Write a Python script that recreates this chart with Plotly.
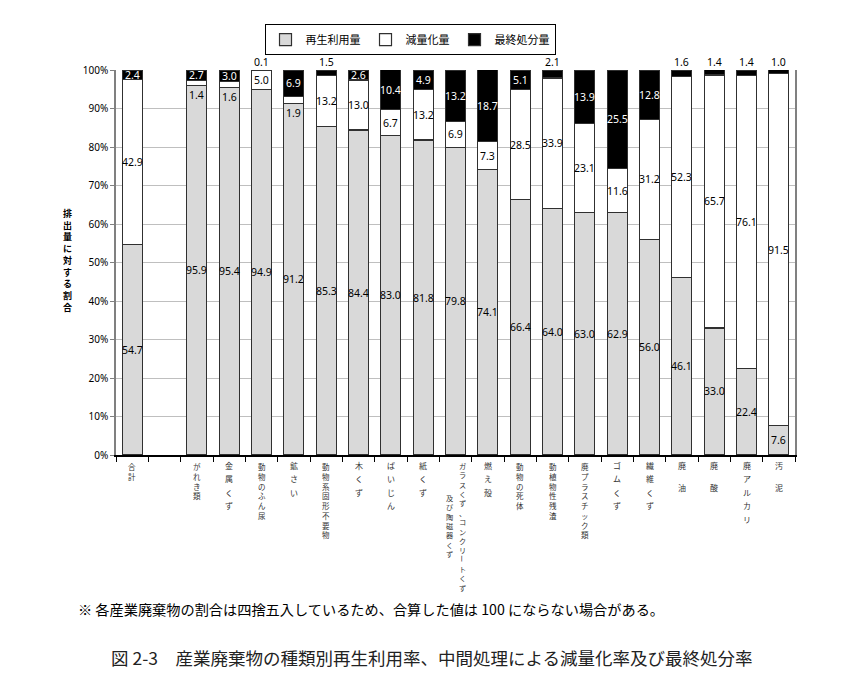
import plotly.graph_objects as go

categories = ["合計", " ", "がれき類", "金属くず", "動物のふん尿", "鉱さい", "動物系固形不要物",
              "木くず", "ばいじん", "紙くず", "ガラスくず、コンクリートくず及び陶磁器くず",
              "燃え殻", "動物の死体", "動植物性残渣", "廃プラスチック類", "ゴムくず",
              "繊維くず", "廃油", "廃酸", "廃アルカリ", "汚泥"]

# vertical tick labels: list of columns (right to left); " " = small gap, "　" = large gap
tick_labels = [["合計"], [], ["がれき類"], ["金 属 く ず"], ["動物のふん尿"], ["鉱 さ い"],
               ["動物系固形不要物"], ["木 く ず"], ["ば い じ ん"], ["紙 く ず"],
               ["ガラスくず、コンクリートくず", "及び陶磁器くず"],
               ["燃 え 殻"], ["動物の死体"], ["動植物性残渣"], ["廃プラスチック類"],
               ["ゴ ム く ず"], ["繊 維 く ず"], ["廃　油"], ["廃　酸"], ["廃 ア ル カ リ"], ["汚　泥"]]

recycled = [54.7, None, 95.9, 95.4, 94.9, 91.2, 85.3, 84.4, 83.0, 81.8, 79.8,
            74.1, 66.4, 64.0, 63.0, 62.9, 56.0, 46.1, 33.0, 22.4, 7.6]
reduced = [42.9, None, 1.4, 1.6, 5.0, 1.9, 13.2, 13.0, 6.7, 13.2, 6.9,
           7.3, 28.5, 33.9, 23.1, 11.6, 31.2, 52.3, 65.7, 76.1, 91.5]
final = [2.4, None, 2.7, 3.0, 0.1, 6.9, 1.5, 2.6, 10.4, 4.9, 13.2,
         18.7, 5.1, 2.1, 13.9, 25.5, 12.8, 1.6, 1.4, 1.4, 1.0]

y_ticks = [0, 10, 20, 30, 40, 50, 60, 70, 80, 90, 100]

series_names = ["再生利用量", "減量化量", "最終処分量"]
series_colors = ["#d9d9d9", "#ffffff", "#000000"]

JP = "Noto Sans CJK JP"
NUM = "Noto Sans"
LABEL_COLOR = "#333333"

fig = go.Figure()
for name, vals, col in zip(series_names, [recycled, reduced, final], series_colors):
    fig.add_bar(x=categories, y=vals, name=name,
                marker=dict(color=col, line=dict(color="#303030", width=1.2)))

annotations = []

def val_ann(cat, y, val, color, yanchor="middle", yshift=0):
    annotations.append(dict(x=cat, y=y, xref="x", yref="y", text=f"{val:.1f}",
                            showarrow=False, yanchor=yanchor, yshift=yshift,
                            borderpad=0,
                            font=dict(family=NUM, size=10.5, color=color)))

for cat, r, d, f in zip(categories, recycled, reduced, final):
    if r is None:
        continue
    val_ann(cat, r / 2, r, "#000000")
    if d >= 2:
        val_ann(cat, r + d / 2, d, "#000000")
    else:
        val_ann(cat, r, d, "#000000", yanchor="top", yshift=-1)
    if f >= 2.3:
        val_ann(cat, min(r + d + f / 2, 100 - f / 2), f, "#ffffff")
    else:
        val_ann(cat, 100, f, "#000000", yanchor="bottom", yshift=0)

# ---- vertical category labels ----
TOP = 10          # px below the axis of first character centre
SMALL_GAP = 3.8
BIG_GAP = 13.0

def char_ann(cat, ch, xshift, center, size, angle=0):
    annotations.append(dict(x=cat, y=0, xref="x", yref="y", text=ch, showarrow=False,
                            yanchor="middle", xshift=xshift, yshift=-center,
                            textangle=angle, borderpad=0,
                            font=dict(family=JP, size=size, color=LABEL_COLOR)))

def seg_ann(cat, chars, xshift, top, size):
    annotations.append(dict(x=cat, y=0, xref="x", yref="y", text="<br>".join(chars),
                            showarrow=False, yanchor="top", xshift=xshift, yshift=-top,
                            borderpad=0,
                            font=dict(family=JP, size=size, color=LABEL_COLOR)))

def render_column(cat, text, xshift, start, size):
    step = 1.3 * size
    if " " in text or "　" in text:
        # spaced label: one annotation per character (gaps are wide enough)
        off = start
        psize = 8
        pstep = 9.7
        for ch in text:
            if ch == " ":
                off += SMALL_GAP
            elif ch == "　":
                off += BIG_GAP
            else:
                char_ann(cat, ch, xshift, TOP + off, psize)
                off += pstep
        return
    # tight label: multi-line segments, the long-vowel mark drawn rotated
    seg = []
    seg_start = 0
    for i, ch in enumerate(text + "\0"):
        if ch in ("ー", "\0"):
            if seg:
                seg_ann(cat, seg, xshift, TOP + start + seg_start * step - step / 2, size)
            if ch == "ー":
                char_ann(cat, ch, xshift, TOP + start + i * step, size, angle=90)
            seg = []
            seg_start = i + 1
        else:
            seg.append(ch)

for cat, cols in zip(categories, tick_labels):
    if len(cols) == 1:
        render_column(cat, cols[0], 0, 0, 7.5)
    elif len(cols) == 2:
        render_column(cat, cols[0], 7, 0, 7.2)
        render_column(cat, cols[1], -6, 32, 7.2)

# y-axis title (vertical)
annotations.append(dict(x=-0.072, y=0.506, xref="paper", yref="paper",
                        text="<b>" + "<br>".join("排出量に対する割合") + "</b>",
                        showarrow=False, xanchor="center", yanchor="middle",
                        font=dict(family=JP, size=9, color="#000000")))

annotations.append(dict(x=-0.059, y=-0.40, xref="paper", yref="paper",
                        text="※ 各産業廃棄物の割合は四捨五入しているため、合算した値は 100 にならない場合がある。",
                        showarrow=False, xanchor="left", yanchor="middle",
                        font=dict(family=JP, size=14.2, color="#000000")))
annotations.append(dict(x=0.465, y=-0.525, xref="paper", yref="paper",
                        text="図 2-3　産業廃棄物の種類別再生利用率、中間処理による減量化率及び最終処分率",
                        showarrow=False, xanchor="center", yanchor="middle",
                        font=dict(family=JP, size=17.5, color="#222222")))

fig.update_layout(
    width=856, height=675,
    barmode="stack", bargap=0.38,
    plot_bgcolor="#ffffff", paper_bgcolor="#ffffff",
    margin=dict(l=108, r=69, t=62, b=228),
    showlegend=True,
    legend=dict(orientation="h", x=0.433, xanchor="center", y=1.119, yanchor="top",
                bordercolor="#000000", borderwidth=1, itemwidth=30,
                font=dict(family=JP, size=11, color="#000000"), traceorder="normal"),
    annotations=annotations,
    xaxis=dict(type="category", categoryorder="array", categoryarray=categories,
               showticklabels=False, tickson="boundaries", ticks="outside", ticklen=5,
               tickcolor="#000000", showline=True, linecolor="#000000", linewidth=1.5,
               showgrid=False, zeroline=False, range=[-0.5, len(categories) - 0.5]),
    yaxis=dict(range=[0, 100], tickvals=y_ticks, ticktext=[f"{v}%" for v in y_ticks],
               ticks="outside", ticklen=4, tickcolor="#808080",
               showline=True, linecolor="#808080", linewidth=1.5, mirror=True,
               showgrid=True, gridcolor="#bfbfbf", gridwidth=1, zeroline=False,
               tickfont=dict(family=NUM, size=10, color="#000000")),
)

fig.write_html("out.html")
